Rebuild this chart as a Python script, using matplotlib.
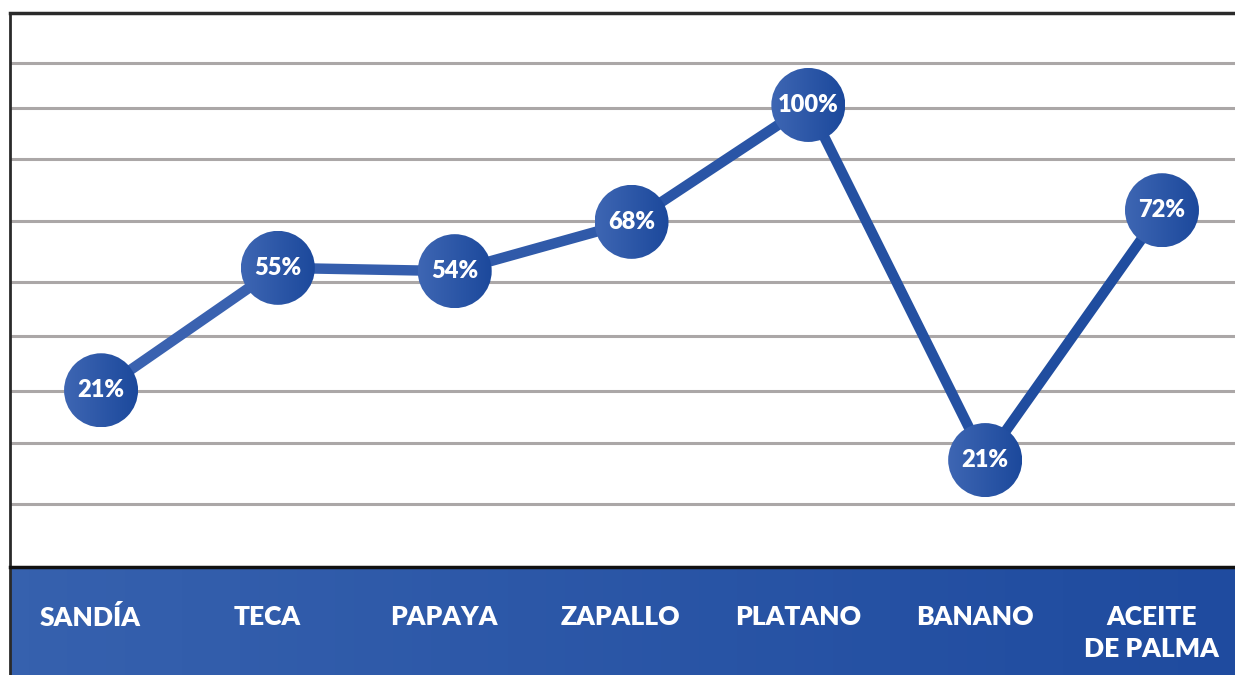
import numpy as np
import matplotlib.pyplot as plt
from matplotlib.colors import LinearSegmentedColormap
from matplotlib.patches import Circle
from matplotlib.transforms import IdentityTransform, blended_transform_factory

# Data
categories = ['SANDÍA', 'TECA', 'PAPAYA', 'ZAPALLO', 'PLATANO', 'BANANO', 'ACEITE\nDE PALMA']
labels = ['21%', '55%', '54%', '68%', '100%', '21%', '72%']
# heights of the points as drawn in the picture (0 = bottom of plot area, 100 = top)
levels = [31.9, 54.0, 53.4, 62.3, 83.4, 19.3, 64.4]
grid_levels = [91.0, 82.9, 73.6, 62.5, 51.4, 41.7, 31.8, 22.4, 11.4]

DPI = 100
W, H = 1235, 675
blue_cmap = LinearSegmentedColormap.from_list('blues', ['#3e66b3', '#1c499c'])
band_cmap = LinearSegmentedColormap.from_list('band', ['#3661ae', '#1f4b9f'])

fig = plt.figure(figsize=(W / DPI, H / DPI), dpi=DPI)
fig.patch.set_facecolor('white')

# plot area: x 10..1235 px, y 13..567 px
ax = fig.add_axes([10 / W, (H - 567) / H, 1 - 10 / W, (567 - 13) / H])
ax.set_facecolor('white')
x = np.arange(len(categories))
ax.set_xlim(-0.515, 6.413)
ax.set_ylim(0, 100)
ax.set_xticks([])
ax.set_yticks([])
for s in ['right', 'bottom']:
    ax.spines[s].set_visible(False)
ax.spines['left'].set_color('#2a2a2a')
ax.spines['left'].set_linewidth(2)
ax.spines['top'].set_color('#2a2a2a')
ax.spines['top'].set_linewidth(2.5)

for g in grid_levels:
    ax.axhline(g, color='#aba7a7', lw=2.2, zorder=1)

# line with a left-to-right colour shift
for i in range(len(x) - 1):
    c = blue_cmap((x[i] + x[i + 1]) / 2 / (len(x) - 1) * 0.9 + 0.05)
    ax.plot(x[i:i + 2], levels[i:i + 2], color=c, lw=7.5, solid_capstyle='butt', zorder=2)

# gradient circles
r_px = 37
grad = np.linspace(0, 1, 64).reshape(1, -1)
inv = ax.transData.inverted()
for xi, yi, lab in zip(x, levels, labels):
    cx, cy = ax.transData.transform((xi, yi))
    circ = Circle((cx, cy), r_px, transform=IdentityTransform(), facecolor='none', edgecolor='none')
    ax.add_patch(circ)
    (x0, y0), (x1, y1) = inv.transform([(cx - r_px, cy - r_px), (cx + r_px, cy + r_px)])
    im = ax.imshow(grad, cmap=blue_cmap, extent=[x0, x1, y0, y1], aspect='auto', zorder=3)
    im.set_clip_path(circ)
    ax.text(xi, yi, lab, ha='center', va='center', color='white', fontsize=17,
            fontfamily='Lato', fontweight='heavy', zorder=4)
ax.set_xlim(-0.515, 6.413)
ax.set_ylim(0, 100)

# bottom category band
band = fig.add_axes([10 / W, 0, 1 - 10 / W, (H - 567) / H])
band.imshow(grad, cmap=band_cmap, extent=[0, 1, 0, 1], aspect='auto')
band.set_xlim(0, 1)
band.set_ylim(0, 1)
band.set_xticks([])
band.set_yticks([])
for s in ['right', 'bottom']:
    band.spines[s].set_visible(False)
band.spines['top'].set_color('#111111')
band.spines['top'].set_linewidth(2.5)
band.spines['left'].set_color('#2a2a2a')
band.spines['left'].set_linewidth(2)

trans = blended_transform_factory(ax.transData, band.transAxes)
for xi, cat in zip(x, categories):
    band.text(xi - 0.06, 0.65, cat, transform=trans, ha='center', va='top', color='white',
              fontsize=19, fontfamily='Lato', fontweight='heavy', linespacing=1.4)

fig.savefig('out.png', dpi=DPI)
